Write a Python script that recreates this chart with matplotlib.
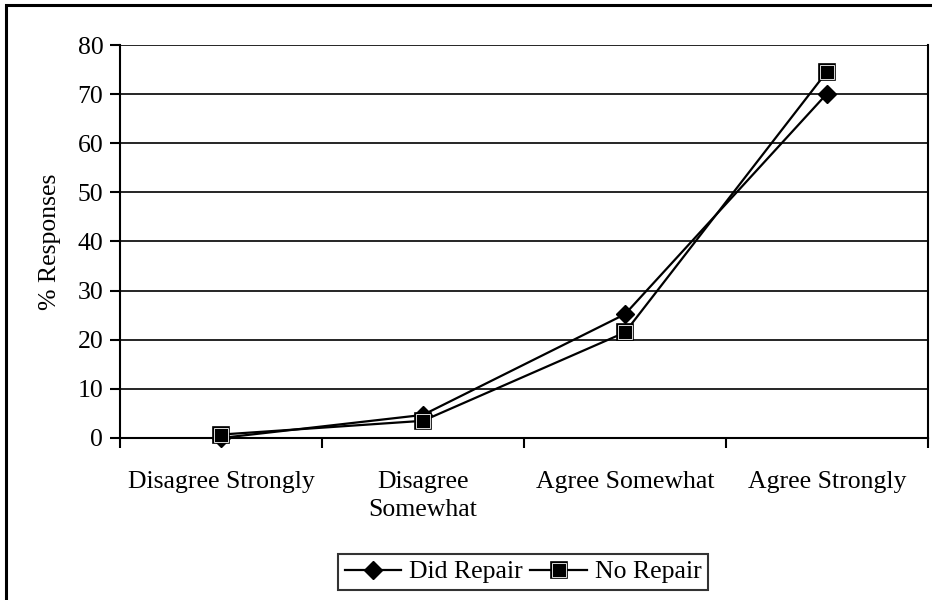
import matplotlib

matplotlib.use("Agg")
import matplotlib.pyplot as plt
from matplotlib.patches import Rectangle

categories = ["Disagree Strongly", "Disagree\nSomewhat", "Agree Somewhat", "Agree Strongly"]
did_repair = [0.0, 4.7, 25.2, 70.1]
no_repair = [0.7, 3.5, 21.5, 74.6]
y_ticks = [0, 10, 20, 30, 40, 50, 60, 70, 80]

plt.rcParams["font.family"] = ["Liberation Serif", "DejaVu Serif"]
FS = 18.5

fig = plt.figure(figsize=(9.32, 6.0), dpi=100)
ax = fig.add_axes([120 / 932, 1 - 438 / 600, (928 - 120) / 932, (438 - 45) / 600])

# outer chart frame (runs off the right and bottom of the canvas)
fig.patches.append(Rectangle((6 / 932, -0.05), 1.1, 1 - 5 / 600 + 0.05,
                             transform=fig.transFigure, fill=False,
                             ec="black", lw=2.2, zorder=0))

x = list(range(len(categories)))
ax.plot(x, did_repair, "-", color="black", lw=1.6, marker="D", ms=9.5,
        mfc="black", mec="black", zorder=3, clip_on=False)
(nr_line,) = ax.plot(x, no_repair, "-", color="black", lw=1.6, marker="s", ms=11.5,
                     mfc="black", mec="black", mew=1.2, zorder=4, clip_on=False)
(nr_inner,) = ax.plot(x, no_repair, "none", marker="s", ms=9.6,
                      mfc="black", mec="white", mew=0.6, zorder=5, clip_on=False)

ax.set_xlim(-0.5, len(categories) - 0.5)
ax.set_ylim(0, 80)
ax.set_yticks(y_ticks)
ax.yaxis.grid(True, color="black", lw=1.2)
ax.set_axisbelow(True)

ax.set_xticks([i + 0.5 for i in range(-1, len(categories))])
ax.set_xticklabels([])
ax.set_xticks(x, minor=True)
ax.set_xticklabels(categories, minor=True, fontsize=FS, linespacing=1.35)
ax.tick_params(axis="x", which="minor", length=0, pad=24)
ax.tick_params(axis="x", which="major", length=7, width=1.5, direction="out")
ax.tick_params(axis="y", length=7, width=1.5, labelsize=FS, pad=5)
for lbl in ax.get_xticklabels(minor=True):
    lbl.set_verticalalignment("top")

for side in ("left", "bottom", "right"):
    ax.spines[side].set_linewidth(1.5)
ax.spines["top"].set_visible(False)

ax.set_ylabel("% Responses", fontsize=FS, labelpad=12)

did_handle = ax.lines[0]
leg = fig.legend([did_handle, (nr_line, nr_inner)], ["Did Repair", "No Repair"],
                 loc="center", bbox_to_anchor=(523 / 932, 1 - 572 / 600),
                 ncol=2, fontsize=FS, frameon=True, fancybox=False,
                 handlelength=2.2, handletextpad=0.3, columnspacing=0.3,
                 borderpad=0.25, borderaxespad=0)
leg.get_frame().set_edgecolor("black")
leg.get_frame().set_linewidth(1.5)

fig.savefig("out.png", dpi=100)
